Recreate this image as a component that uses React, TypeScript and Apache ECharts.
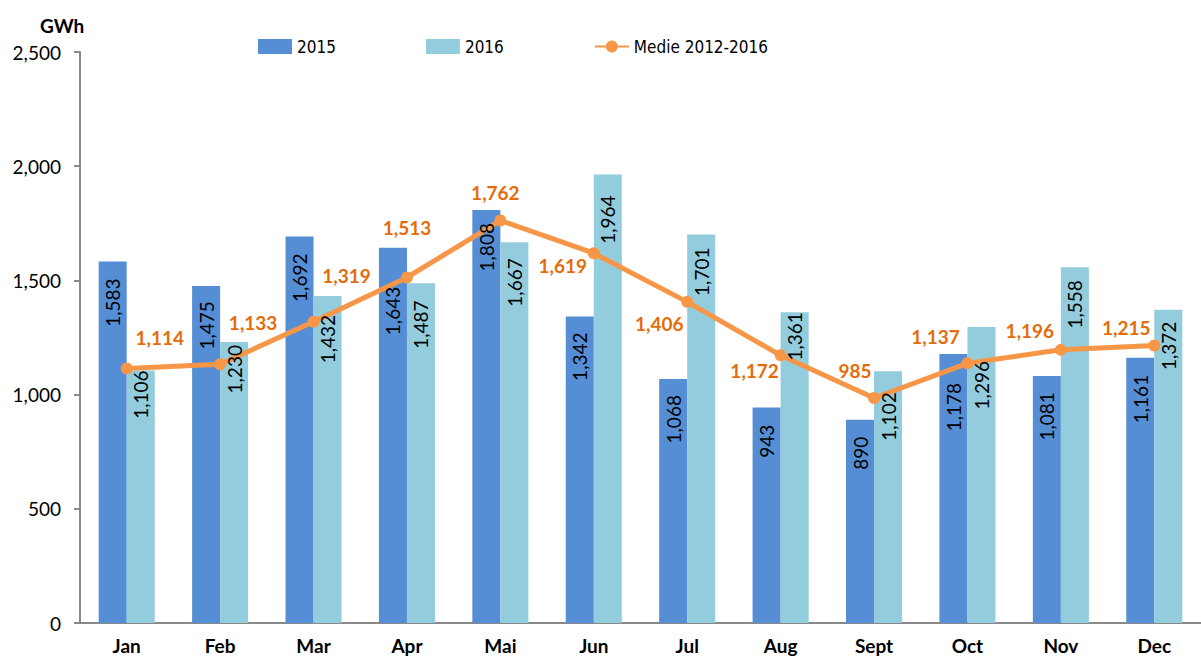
import React, { useEffect, useRef } from "react";
import * as echarts from "echarts";

const months = ["Jan", "Feb", "Mar", "Apr", "Mai", "Jun", "Jul", "Aug", "Sept", "Oct", "Nov", "Dec"];
const values2015 = [1583, 1475, 1692, 1643, 1808, 1342, 1068, 943, 890, 1178, 1081, 1161];
const values2016 = [1106, 1230, 1432, 1487, 1667, 1964, 1701, 1361, 1102, 1296, 1558, 1372];
const average = [1114, 1133, 1319, 1513, 1762, 1619, 1406, 1172, 985, 1137, 1196, 1215];
// label placement (style only)
const avgLabelOffsets: [number, number][] = [
  [33, -31], [33, -42], [33, -46], [0, -50], [-5, -28], [-31, 12],
  [-28, 22], [-26, 15], [-19, -28], [-32, -27], [-31, -19], [-28, -18],
];
const labelDist2015 = [17, 15, 17, 39, 13, 16, 16, 17, 17, 29, 16, 17];
const labelDist2016 = [0, 3, 19, 17, 16, 21, 13, 0, 21, 34, 13, 12];

const FONT = "Lato, 'Open Sans', sans-serif";
const fmt = (v: number) => v.toLocaleString("en-US");

export default function App() {
  const ref = useRef<HTMLDivElement>(null);
  useEffect(() => {
    if (!ref.current) return;
    const chart = echarts.init(ref.current, null, { renderer: "svg" });
    const barLabel = {
      show: true,
      position: "insideTop",
      rotate: 90,
      align: "right",
      verticalAlign: "middle",
      distance: 16,
      color: "#000",
      fontSize: 19,
      fontFamily: FONT,
      formatter: (p: any) => fmt(p.value),
    };
    const xCommon = {
      type: "category",
      data: months,
    };
    chart.setOption({
      animation: false,
      textStyle: { fontFamily: FONT },
      grid: { left: 80, right: -9, top: 52, bottom: 36, containLabel: false },
      legend: {
        left: 258,
        top: 38,
        padding: 0,
        itemGap: 90,
        itemWidth: 34,
        itemHeight: 15,
        textStyle: {
          fontSize: 17,
          color: "#000",
          fontFamily: "'Liberation Sans Narrow', 'DejaVu Sans Condensed', Lato, sans-serif",
        },
        data: [
          { name: "2015", icon: "rect" },
          { name: "2016", icon: "rect" },
          { name: "Medie 2012-2016" },
        ],
      },
      graphic: [
        {
          type: "text",
          left: 40,
          top: 16,
          style: { text: "GWh", fontSize: 19, fontWeight: "bold", fill: "#000", fontFamily: FONT },
        },
      ],
      xAxis: [
        {
          ...xCommon,
          axisLine: { lineStyle: { color: "#898989", width: 2 } },
          axisTick: { length: 6, lineStyle: { color: "#898989", width: 2 } },
          axisLabel: { margin: 13, fontSize: 19, fontWeight: "bold", color: "#000", fontFamily: FONT },
        },
        {
          ...xCommon,
          show: false,
        },
      ],
      yAxis: {
        type: "value",
        min: 0,
        max: 2500,
        interval: 500,
        splitLine: { show: false },
        axisLine: { show: true, lineStyle: { color: "#898989", width: 2 } },
        axisTick: { show: true, length: 6, lineStyle: { color: "#898989", width: 2 } },
        axisLabel: {
          margin: 19,
          fontSize: 19,
          color: "#000",
          fontFamily: FONT,
          formatter: (v: number) => fmt(v),
        },
      },
      series: [
        {
          name: "2015",
          type: "bar",
          data: values2015,
          barGap: "0%",
          barCategoryGap: "40%",
          itemStyle: { color: "#558ED5" },
          z: 2,
        },
        {
          name: "2016",
          type: "bar",
          data: values2016,
          itemStyle: { color: "#93CDDD" },
          z: 2,
        },
        {
          name: "Medie 2012-2016",
          type: "line",
          data: average.map((v, i) => ({
            value: v,
            label: { offset: avgLabelOffsets[i] },
          })),
          symbol: "circle",
          symbolSize: 12,
          lineStyle: { color: "#F79646", width: 5 },
          itemStyle: { color: "#F79646" },
          z: 3,
          label: {
            show: true,
            position: "inside",
            color: "#E46C0A",
            fontWeight: "bold",
            fontSize: 19,
            fontFamily: FONT,
            formatter: (p: any) => fmt(p.value),
          },
        },
        {
          name: "labels2015",
          type: "bar",
          xAxisIndex: 1,
          data: values2015.map((v, i) => ({ value: v, label: { distance: labelDist2015[i] } })),
          barGap: "0%",
          barCategoryGap: "40%",
          itemStyle: { color: "rgba(0,0,0,0)" },
          label: barLabel,
          silent: true,
          z: 4,
        },
        {
          name: "labels2016",
          type: "bar",
          xAxisIndex: 1,
          data: values2016.map((v, i) => ({ value: v, label: { distance: labelDist2016[i] } })),
          itemStyle: { color: "rgba(0,0,0,0)" },
          label: barLabel,
          silent: true,
          z: 4,
        },
      ],
    });
    return () => chart.dispose();
  }, []);
  return (
    <div
      ref={ref}
      style={{ position: "fixed", left: 0, top: 0, width: 1201, height: 659, background: "#fff" }}
    />
  );
}
